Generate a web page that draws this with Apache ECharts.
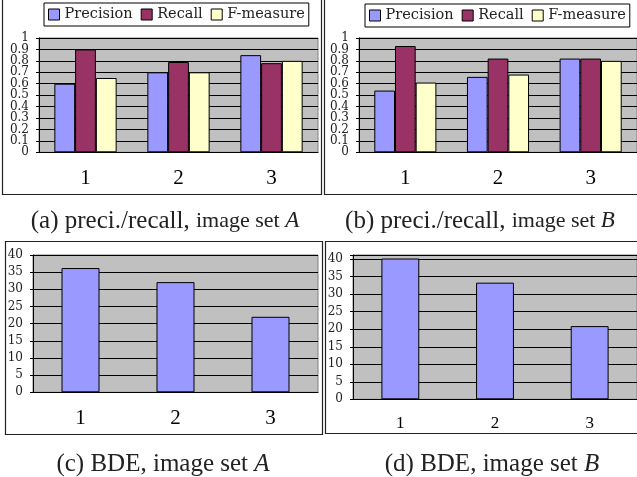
<!DOCTYPE html>
<html>
<head>
<meta charset="utf-8">
<script src="https://cdn.jsdelivr.net/npm/echarts@6/dist/echarts.min.js"></script>
<style>
html,body{margin:0;padding:0;background:#fff;}
#chart{width:637px;height:477px;}
</style>
</head>
<body>
<div id="chart"></div>
<script>
// ---- data ----
var categories = ['1', '2', '3'];
var seriesNames = ['Precision', 'Recall', 'F-measure'];
var precisionA = [0.60, 0.70, 0.85];
var recallA    = [0.90, 0.79, 0.78];
var fmeasureA  = [0.65, 0.70, 0.80];
var precisionB = [0.54, 0.66, 0.82];
var recallB    = [0.93, 0.82, 0.82];
var fmeasureB  = [0.61, 0.68, 0.80];
var bdeA = [36.2, 32.1, 22.0];
var bdeB = [40.2, 33.3, 20.9];
var captions = [
  {panel: '(a) preci./recall,', rest: 'image set ', set: 'A'},
  {panel: '(b) preci./recall,', rest: 'image set ', set: 'B'},
  {panel: '(c) BDE,', rest: 'image set ', set: 'A'},
  {panel: '(d) BDE,', rest: 'image set ', set: 'B'}
];

var colors = ['#9999FF', '#993366', '#FFFFCC'];
var chart = echarts.init(document.getElementById('chart'), null, {renderer: 'canvas'});

var grids = [
  {left: 39, top: 38, width: 279, height: 114.3},
  {left: 359, top: 38, width: 279, height: 114.3},
  {left: 33, top: 255, width: 285, height: 137.3},
  {left: 353, top: 255, width: 284, height: 144.3}
];
grids.forEach(function (g) {
  g.show = true;
  g.backgroundColor = '#C0C0C0';
  g.borderColor = '#808080';
  g.borderWidth = 1;
  g.containLabel = false;
});

var xLabelSizes = [21, 21, 21, 17];
var xAxes = grids.map(function (g, i) {
  return {
    type: 'category', gridIndex: i, data: categories,
    axisLine: {lineStyle: {color: '#000', width: 1}},
    axisTick: {show: false},
    axisLabel: {color: '#000', fontFamily: 'Liberation Serif', fontSize: xLabelSizes[i], margin: 16}
  };
});

var labelStyle = {color: '#222', fontFamily: 'DejaVu Serif', fontSize: 12, margin: 10,
  showMaxLabel: true, showMinLabel: true, hideOverlap: false};

function yAxis(i, max, interval, fmt) {
  return {
    type: 'value', gridIndex: i, min: 0, max: max, interval: interval, position: 'left',
    axisLine: {show: true, lineStyle: {color: '#000', width: 1}},
    axisTick: {show: true, length: 3, lineStyle: {color: '#000'}},
    splitLine: {show: true, lineStyle: {color: '#000', width: 1}},
    axisLabel: Object.assign({formatter: fmt}, labelStyle)
  };
}
// label-only companion axis sharing the same scale (shows the alternate tick labels)
function yAxisAlt(i, max, interval, fmt) {
  return {
    type: 'value', gridIndex: i, min: 0, max: max, interval: interval, position: 'left', offset: 0,
    axisLine: {show: false}, axisTick: {show: false}, splitLine: {show: false},
    axisLabel: Object.assign({formatter: fmt}, labelStyle)
  };
}
function stepIndex(v, step) { return Math.round(v / step); }
var fmtRatioEven = function (v) { return stepIndex(v, 0.1) % 2 === 0 ? String(Math.round(v * 10) / 10) : ''; };
var fmtRatioOdd  = function (v) { return stepIndex(v, 0.1) % 2 === 1 ? String(Math.round(v * 10) / 10) : ''; };
var fmtBde = function (v) { return (Math.abs(v % 5) < 1e-6) ? String(v) : ''; };
var yAxes = [
  yAxis(0, 1, 0.1, fmtRatioEven),
  yAxis(1, 1, 0.1, fmtRatioEven),
  yAxis(2, 40, 5, fmtBde),
  yAxis(3, 41.2, 5, fmtBde),
  yAxisAlt(0, 1, 0.1, fmtRatioOdd),
  yAxisAlt(1, 1, 0.1, fmtRatioOdd)
];

function barSeries(name, data, gi, color, gapCat) {
  return {
    type: 'bar', name: name, data: data, xAxisIndex: gi, yAxisIndex: gi,
    barGap: '0%', barCategoryGap: gapCat,
    itemStyle: {color: color, borderColor: '#000', borderWidth: 1},
    emphasis: {disabled: true}, animation: false
  };
}
var series = [
  barSeries(seriesNames[0], precisionA, 0, colors[0], '33%'),
  barSeries(seriesNames[1], recallA, 0, colors[1], '33%'),
  barSeries(seriesNames[2], fmeasureA, 0, colors[2], '33%'),
  barSeries(seriesNames[0], precisionB, 1, colors[0], '33%'),
  barSeries(seriesNames[1], recallB, 1, colors[1], '33%'),
  barSeries(seriesNames[2], fmeasureB, 1, colors[2], '33%'),
  barSeries('BDE A', bdeA, 2, colors[0], '60%'),
  barSeries('BDE B', bdeB, 3, colors[0], '60%')
];

function legend(left, top) {
  return {
    data: seriesNames, left: left, top: top, orient: 'horizontal',
    icon: 'rect', itemWidth: 11, itemHeight: 11, itemGap: 8,
    padding: [4, 4, 4, 4], borderColor: '#000', borderWidth: 1, backgroundColor: '#fff',
    selectedMode: false,
    textStyle: {fontFamily: 'DejaVu Serif', fontSize: 14.5, color: '#222'},
    itemStyle: {borderColor: '#000', borderWidth: 1}
  };
}

var frames = [
  [2, -2, 319, 196],
  [324, -2, 320, 196],
  [5, 241, 317, 193],
  [325, 241, 320, 192]
];
var captionPos = [[165, 221], [480, 221], [163, 464], [492, 464]];

var graphics = frames.map(function (f) {
  return {type: 'rect', shape: {x: f[0] + 0.5, y: f[1] + 0.5, width: f[2], height: f[3]},
    style: {fill: 'none', stroke: '#222', lineWidth: 1.2}, silent: true, z: 0};
});
captions.forEach(function (c, i) {
  graphics.push({
    type: 'text', x: captionPos[i][0], y: captionPos[i][1], silent: true,
    style: {
      text: '{p|' + c.panel + ' }{r|' + c.rest + '}{s|' + c.set + '}',
      align: 'center', verticalAlign: 'middle',
      rich: {
        p: {fontFamily: 'Liberation Serif', fontSize: 25, fill: '#222'},
        r: {fontFamily: 'Liberation Serif', fontSize: i < 2 ? 22 : 25, fill: '#222'},
        s: {fontFamily: 'Liberation Serif', fontStyle: 'italic', fontSize: i < 2 ? 23 : 25, fill: '#222'}
      }
    }
  });
});

chart.setOption({
  animation: false,
  backgroundColor: '#fff',
  grid: grids,
  xAxis: xAxes,
  yAxis: yAxes,
  legend: [legend(44, 3), legend(365, 4)],
  series: series,
  graphic: graphics
});
</script>
</body>
</html>
